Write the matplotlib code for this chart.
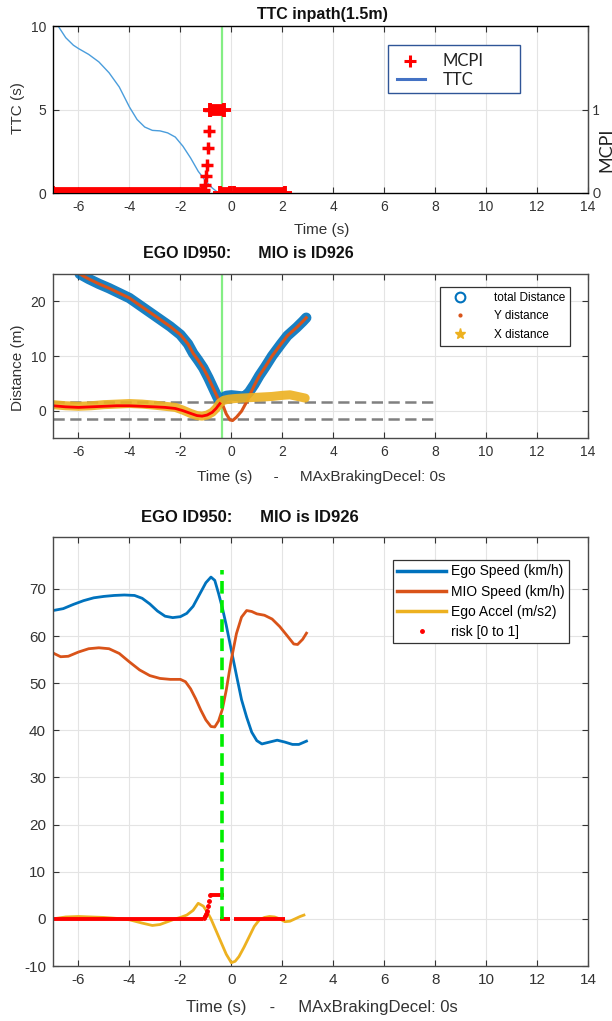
import numpy as np
import matplotlib
matplotlib.use('Agg')
import matplotlib.pyplot as plt
from matplotlib.lines import Line2D
from matplotlib.patches import Rectangle

plt.rcParams['font.family'] = ['Liberation Sans', 'DejaVu Sans']
plt.rcParams['axes.unicode_minus'] = False

W, H = 612, 1021

BLUE = '#0072BD'
ORANGE = '#D95319'
YELLOW = '#EDB120'
TICK_C = '#333333'
GRID_C = '#e4e4e4'

# --- TTC panel -------------------------------------------------------------
ttc_t = [-6.8, -6.5, -6.2, -6.0, -5.6, -5.2, -4.8, -4.4, -4.0, -3.7, -3.4, -3.1,
         -2.8, -2.5, -2.2, -1.9, -1.6, -1.3, -1.0, -0.75, -0.5]
ttc = [10.0, 9.3, 8.85, 8.65, 8.3, 7.85, 7.2, 6.35, 5.15, 4.4, 3.95, 3.75,
       3.72, 3.6, 3.35, 2.8, 2.1, 1.3, 0.7, 0.3, 0.0]

# MCPI: flat stretches (start, end, value) and the ramp samples
mcpi_spans = [(-7.0, -1.1, 0.0), (-0.82, -0.3, 1.0), (-0.43, -0.06, 0.0), (0.1, 2.1, 0.0)]
mcpi_ramp_t = [-1.08, -1.04, -1.0, -0.96, -0.92, -0.87, -0.82]
mcpi_ramp = [0.04, 0.1, 0.2, 0.34, 0.54, 0.74, 1.0]

t_event = -0.37

# --- distance panel --------------------------------------------------------
tot_t = [-5.95, -5.6, -5.2, -4.8, -4.4, -4.0, -3.6, -3.2, -2.8, -2.4, -2.0, -1.7,
         -1.5, -1.3, -1.1, -0.9, -0.7, -0.55, -0.45, -0.35, -0.2, 0.0, 0.2, 0.4,
         0.55, 0.7, 0.9, 1.1, 1.33, 1.6, 1.95, 2.2, 2.56, 2.8, 2.94]
total_dist = [25.0, 24.1, 23.2, 22.4, 21.5, 20.6, 19.3, 18.0, 16.7, 15.4, 13.9, 12.2,
              10.5, 9.2, 7.8, 6.0, 4.0, 2.5, 1.6, 2.3, 2.7, 2.8, 2.7, 2.6,
              2.7, 3.4, 4.8, 6.4, 8.0, 10.0, 12.2, 13.7, 15.2, 16.3, 17.0]

y_t = [-5.95, -5.6, -5.2, -4.8, -4.4, -4.0, -3.6, -3.2, -2.8, -2.4, -2.0, -1.7,
       -1.5, -1.3, -1.1, -0.9, -0.7, -0.55, -0.45, -0.35, -0.2, -0.05, 0.05, 0.2,
       0.4, 0.6, 0.75, 0.9, 1.1, 1.33, 1.6, 1.95, 2.2, 2.56, 2.8, 2.94]
y_dist = [25.0, 24.1, 23.2, 22.4, 21.5, 20.6, 19.3, 18.0, 16.7, 15.4, 13.9, 12.2,
          10.5, 9.2, 7.8, 6.0, 4.0, 2.5, 1.6, 1.2, -0.6, -1.7, -1.8, -1.2,
          -0.1, 1.6, 3.1, 4.6, 6.4, 8.0, 10.0, 12.2, 13.7, 15.2, 16.3, 17.0]

x_t = [-7.0, -6.5, -6.0, -5.5, -5.0, -4.5, -4.0, -3.5, -3.0, -2.6, -2.2, -1.9,
       -1.6, -1.35, -1.15, -0.95, -0.75, -0.6, -0.45, -0.3, -0.1, 0.1, 0.4, 0.8,
       1.2, 1.6, 2.0, 2.3, 2.6, 2.9]
x_dist = [1.1, 0.9, 0.8, 0.9, 1.1, 1.2, 1.3, 1.2, 1.0, 0.8, 0.6, 0.1,
          -0.5, -0.9, -1.0, -0.8, -0.3, 0.4, 1.4, 1.9, 2.1, 2.2, 2.3, 2.4,
          2.5, 2.6, 2.8, 2.9, 2.6, 2.3]

lat_t = [-7.0, -6.5, -6.0, -5.5, -5.0, -4.5, -4.0, -3.5, -3.0, -2.6, -2.2, -1.9,
         -1.6, -1.35, -1.15, -0.95, -0.75, -0.6, -0.45]
lat = [0.9, 0.7, 0.6, 0.7, 0.8, 0.9, 0.9, 0.8, 0.7, 0.6, 0.4, 0.0,
       -0.5, -0.9, -1.0, -0.8, -0.3, 0.4, 1.3]

lane_half = 1.5

# --- speed panel -----------------------------------------------------------
ego_t = [-7.0, -6.6, -6.2, -5.8, -5.4, -5.0, -4.6, -4.2, -3.8, -3.5, -3.2, -2.9,
         -2.6, -2.3, -2.0, -1.75, -1.5, -1.25, -1.0, -0.8, -0.65, -0.5, -0.35, -0.2,
         0.0, 0.2, 0.4, 0.6, 0.8, 1.0, 1.2, 1.5, 1.8, 2.1, 2.4, 2.65, 2.95]
ego_speed = [65.4, 65.8, 66.7, 67.5, 68.1, 68.4, 68.6, 68.7, 68.6, 68.0, 66.8, 65.3,
             64.2, 63.9, 64.1, 64.8, 66.3, 68.8, 71.3, 72.5, 71.8, 69.0, 65.9, 62.3,
             57.0, 51.7, 46.5, 42.8, 39.6, 37.8, 37.1, 37.5, 37.9, 37.5, 37.0, 37.0, 37.7]

mio_t = [-7.0, -6.7, -6.4, -6.0, -5.6, -5.2, -4.8, -4.4, -4.0, -3.6, -3.2, -2.8,
         -2.4, -2.0, -1.8, -1.6, -1.4, -1.2, -1.0, -0.8, -0.65, -0.5, -0.35, -0.2,
         0.0, 0.2, 0.4, 0.6, 0.8, 1.0, 1.3, 1.6, 1.9, 2.2, 2.45, 2.6, 2.8, 2.95]
mio_speed = [56.4, 55.6, 55.7, 56.6, 57.3, 57.5, 57.3, 56.3, 54.5, 52.8, 51.6, 51.0,
             50.8, 50.8, 50.3, 48.8, 46.7, 44.3, 42.2, 40.8, 40.7, 42.0, 44.5, 48.5,
             55.0, 60.5, 64.0, 65.4, 65.2, 64.7, 64.4, 63.6, 62.0, 60.0, 58.3, 58.2, 59.3, 60.6]

acc_t = [-7.0, -6.5, -6.0, -5.5, -5.0, -4.5, -4.0, -3.5, -3.1, -2.8, -2.5, -2.2,
         -2.0, -1.75, -1.5, -1.3, -1.1, -0.95, -0.8, -0.6, -0.4, -0.2, 0.0, 0.15,
         0.3, 0.5, 0.7, 0.9, 1.1, 1.3, 1.5, 1.7, 1.9, 2.1, 2.3, 2.5, 2.7, 2.85]
ego_accel = [0.0, 0.4, 0.5, 0.4, 0.3, 0.1, -0.2, -0.9, -1.4, -1.2, -0.6, 0.0,
             0.3, 0.8, 1.8, 3.3, 2.7, 1.5, 0.0, -2.5, -5.0, -7.5, -9.3, -9.0,
             -8.0, -6.0, -3.8, -1.6, -0.2, 0.3, 0.5, 0.4, 0.0, -0.6, -0.5, 0.0, 0.5, 0.8]

risk_scale = 5.0

x_ticks = list(range(-6, 15, 2))


def rect(l, t, r, b):
    return [l / W, 1 - b / H, (r - l) / W, (b - t) / H]


def fpos(x, y):
    return x / W, 1 - y / H


def style_axes(ax, fs, right=True):
    ax.set_xlim(-7, 14)
    ax.set_xticks(x_ticks)
    ax.grid(True, color=GRID_C, lw=0.8)
    ax.set_axisbelow(True)
    ax.tick_params(direction='in', length=4, width=0.8, top=True, right=right,
                   colors=TICK_C, labelsize=fs, pad=5)
    for s in ax.spines.values():
        s.set_color('#4a4a4a')
        s.set_linewidth(1.0)


fig = plt.figure(figsize=(W / 100, H / 100), dpi=100)

# ---------------- TTC inpath ----------------
ax1 = fig.add_axes(rect(53, 26, 588, 193))
style_axes(ax1, 10, right=False)
ax1.set_ylim(0, 10)
ax1.set_yticks([0, 5, 10])
ax1.plot(ttc_t, ttc, color='#4a9ddc', lw=1.0)
ax1.plot([t_event, t_event], [0, 10], color='#84ee84', lw=1.6)

ax1r = ax1.twinx()
ax1r.set_ylim(0, 2)
ax1r.set_yticks([0, 1])
ax1r.tick_params(direction='in', length=4, width=0.8, colors=TICK_C, labelsize=10, pad=3)
for lab in ax1r.get_yticklabels():
    lab.set_family(['Lato', 'DejaVu Sans'])
ax1r.spines['right'].set_color('#4a4a4a')
for t0, t1, v in mcpi_spans:
    ax1r.plot([t0, t1], [v, v], color='red', lw=8.5, solid_capstyle='butt')
    ax1r.plot([t0, t1], [v, v], ls='none', marker='+', ms=10, mew=2.8, color='red')
ax1r.plot(mcpi_ramp_t, mcpi_ramp, ls='none', marker='+', ms=8, mew=2.5, color='red')

fig.text(*fpos(322, 14), 'TTC inpath(1.5m)', ha='center', va='center',
         fontsize=11.5, fontweight='bold', color='#111111')
fig.text(*fpos(322, 230), 'Time (s)', ha='center', va='center', fontsize=11, color=TICK_C)
fig.text(*fpos(18, 108), 'TTC (s)', ha='center', va='center', rotation=90,
         fontsize=11, color=TICK_C)
fig.text(*fpos(606, 150), 'MCPI', ha='center', va='center', rotation=90,
         fontsize=13, color='#222222', family=['Lato', 'DejaVu Sans'])

# pasted legend box
fig.add_artist(Rectangle(fpos(388, 93), 132 / W, 48 / H, transform=fig.transFigure,
                         facecolor='white', edgecolor='#2F5597', lw=1.0))
fig.add_artist(Line2D([410 / W], [1 - 61 / H], transform=fig.transFigure,
                      marker='+', ms=8, mew=2.2, color='red', ls='none'))
fig.add_artist(Line2D([397 / W, 425 / W], [1 - 79 / H, 1 - 79 / H],
                      transform=fig.transFigure, color='#4472C4', lw=2.2))
fig.text(*fpos(443, 61), 'MCPI', va='center', fontsize=12, color='#222222',
         family=['Lato', 'DejaVu Sans'])
fig.text(*fpos(443, 80), 'TTC', va='center', fontsize=12, color='#222222',
         family=['Lato', 'DejaVu Sans'])

# ---------------- distances ----------------
ax2 = fig.add_axes(rect(53, 274, 588, 438))
style_axes(ax2, 10)
ax2.set_ylim(-5, 25)
ax2.set_yticks([0, 10, 20])
ax2.plot([-7, 8], [lane_half, lane_half], color='#808080', lw=1.8, ls=(0, (4.5, 2.2)))
ax2.plot([-7, 8], [-lane_half, -lane_half], color='#808080', lw=1.8, ls=(0, (4.5, 2.2)))
ax2.plot([t_event, t_event], [-5, 25], color='#84ee84', lw=1.6)
ax2.plot(tot_t, total_dist, color=BLUE, lw=7.5, solid_capstyle='round', alpha=0.9)
ax2.plot(y_t, y_dist, color=ORANGE, lw=2.2)
ax2.plot(x_t, x_dist, color=YELLOW, lw=6.5, solid_capstyle='round', alpha=0.9)
ax2.plot(lat_t, lat, color='red', lw=2.0)

h2 = [Line2D([], [], ls='none', marker='o', mfc='none', mec=BLUE, mew=1.5, ms=7),
      Line2D([], [], ls='none', marker='.', color=ORANGE, ms=4),
      Line2D([], [], ls='none', marker='*', color=YELLOW, ms=8)]
leg2 = ax2.legend(h2, ['total Distance', 'Y distance', 'X distance'],
                  loc='upper right', bbox_to_anchor=(0.978, 0.955), fontsize=8.5,
                  fancybox=False, framealpha=1, edgecolor='#333333',
                  handletextpad=1.6, borderpad=0.4, labelspacing=0.55, handlelength=2.6)
leg2.get_frame().set_linewidth(0.9)

fig.text(*fpos(248, 253), 'EGO ID950:      MIO is ID926', ha='center', va='center',
         fontsize=11.5, fontweight='bold', color='#111111')
fig.text(*fpos(321, 477), 'Time (s)     -     MAxBrakingDecel: 0s', ha='center',
         va='center', fontsize=11, color=TICK_C)
fig.text(*fpos(18, 368), 'Distance (m)', ha='center', va='center', rotation=90,
         fontsize=11, color=TICK_C)

# ---------------- speeds ----------------
ax3 = fig.add_axes(rect(53, 537, 588, 966))
style_axes(ax3, 11)
ax3.set_ylim(-10, 81)
ax3.set_yticks(list(range(-10, 71, 10)))
ax3.plot(ego_t, ego_speed, color=BLUE, lw=2.0)
ax3.plot(mio_t, mio_speed, color=ORANGE, lw=2.0)
ax3.plot(acc_t, ego_accel, color=YELLOW, lw=2.0)
for t0, t1, v in mcpi_spans:
    ax3.plot([t0, t1], [v * risk_scale, v * risk_scale], color='red', lw=2.8,
             solid_capstyle='butt')
ax3.plot(mcpi_ramp_t, np.array(mcpi_ramp) * risk_scale, ls='none', marker='.',
         ms=5, color='red')
ax3.plot([t_event, t_event], [0, 74], color='#00ee00', lw=2.6, ls=(0, (3.5, 1.8)))

h3 = [Line2D([], [], color=BLUE, lw=2.5),
      Line2D([], [], color=ORANGE, lw=2.5),
      Line2D([], [], color=YELLOW, lw=2.5),
      Line2D([], [], ls='none', marker='.', color='red', ms=5)]
leg3 = ax3.legend(h3, ['Ego Speed (km/h)', 'MIO Speed (km/h)', 'Ego Accel (m/s2)',
                       'risk [0 to 1]'],
                  loc='upper right', bbox_to_anchor=(0.978, 0.962), fontsize=10,
                  fancybox=False, framealpha=1, edgecolor='#333333',
                  handletextpad=0.4, borderpad=0.3, labelspacing=0.45, handlelength=3.5)
leg3.get_frame().set_linewidth(0.9)

fig.text(*fpos(250, 518), 'EGO ID950:      MIO is ID926', ha='center', va='center',
         fontsize=12, fontweight='bold', color='#111111')
fig.text(*fpos(322, 1007), 'Time (s)     -     MAxBrakingDecel: 0s', ha='center',
         va='center', fontsize=12, color=TICK_C)

fig.savefig('out.png', dpi=100)
